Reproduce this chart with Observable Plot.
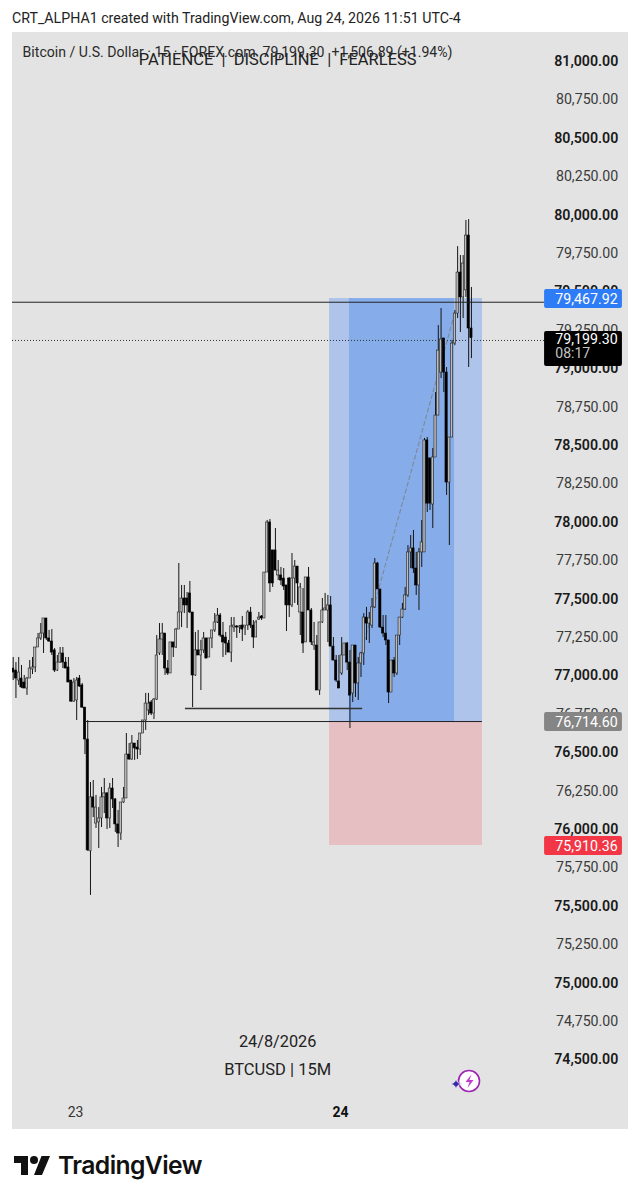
<!DOCTYPE html>
<html>
<head>
<meta charset="utf-8">
<script src="https://cdn.jsdelivr.net/npm/d3@7"></script>
<script src="https://cdn.jsdelivr.net/npm/@observablehq/plot@0.6"></script>
<style>
html,body{margin:0;padding:0;background:#fff;width:640px;height:1200px;overflow:hidden;font-family:Roboto,sans-serif}
#page{position:relative;width:640px;height:1200px}
#head{position:absolute;left:12px;top:9px;font-size:14.2px;line-height:18px;color:#222;white-space:nowrap}
#chart{position:absolute;left:12px;top:32px}
#chart svg{display:block}
#logo{position:absolute;left:14px;top:1151px;display:flex;align-items:center;gap:8px;color:#111}
#logo span{font-family:Inter,sans-serif;font-weight:600;font-size:24.7px;letter-spacing:-0.6px;line-height:28px}
#spark{position:absolute;left:450px;top:1066px}
</style>
</head>
<body>
<div id="page">
<div id="head">CRT_ALPHA1 created with TradingView.com, Aug 24, 2026 11:51 UTC-4</div>
<div id="chart"></div>
<svg id="spark" width="36" height="30" viewBox="0 0 36 30">
<circle cx="19" cy="15" r="10.5" fill="#fff" stroke="#9c27b0" stroke-width="1.6"/>
<path d="M21.5 8.5 15.5 16h4l-2 6 6-8h-4z" fill="#c13bd0"/>
<path d="M6 12C6.700 16 7.500 16.800 12 18 7.500 19 6.700 20 6 24 5.300 20 4.500 19 0 18 4.500 16.800 5.300 16 6 12z" fill="#3b2aa8" stroke="#fff" stroke-width=".8"/>
</svg>
<div id="logo">
<svg width="36" height="26" viewBox="0 0 36 26"><path d="M14 23H7V11H0V4h14zM28 23h-8l7.500-19H36z" fill="#111"/><circle cx="20" cy="8" r="4" fill="#111"/></svg>
<span>TradingView</span>
</div>
</div>
<script>
const opens = [77048,77035,76970,76983,76957,76918,76983,77042,77055,77185,77244,77276,77374,77244,77224,77166,77035,77087,77146,77087,
77055,76970,76833,76840,76983,76938,76794,76586,75858,76209,76039,76046,76072,76209,76235,76072,76267,76196,76033,75974,
76176,76202,76488,76456,76560,76534,76521,76625,76710,76775,76827,76755,76846,77146,77237,77276,77048,77016,77218,77185,
77302,77413,77504,77504,77537,77413,77003,77166,77133,77166,77244,77120,77244,77296,77348,77393,77263,77250,77211,77152,
77315,77322,77315,77328,77315,77328,77413,77328,77250,77367,77387,77374,77673,77999,77817,77817,77654,77654,77634,77589,
77634,77459,77634,77712,77413,77413,77218,77641,77426,77198,77198,76905,77348,77426,77426,77459,77191,77100,76964,77016,
77133,77211,77087,76886,77198,76951,77081,77146,77380,77341,77328,77446,77732,77563,77315,77276,77231,76892,77100,77016,
77263,77380,77432,77524,77804,77830,77699,77589,77804,77804,78533,78416,78116,78422,78695,78975,79197,78975,78259,78552,
79164,79359,79626,79464,79510,79867,79262];
const highs = [77120,77087,77120,77068,77003,76990,77100,77120,77185,77276,77341,77374,77374,77296,77302,77178,77133,77185,77185,77120,
77120,76970,76983,76990,77003,76951,76794,76710,76306,76319,76222,76143,76274,76332,76241,76300,76332,76202,76124,76176,
76274,76625,76560,76612,76560,76580,76625,76710,76886,76886,76840,76853,77263,77341,77341,77276,77100,77218,77218,77309,
77732,77589,77589,77543,77615,77413,77283,77296,77231,77283,77244,77244,77296,77406,77439,77406,77348,77283,77231,77380,
77380,77328,77328,77387,77328,77426,77446,77361,77361,77413,77393,77673,78012,78018,77817,77960,77751,77706,77699,77589,
77641,77797,77751,77712,77602,77569,77641,77706,77439,77348,77263,77348,77504,77537,77524,77517,77250,77133,77133,77250,
77211,77218,77166,77198,77198,77120,77152,77406,77446,77413,77504,77764,77738,77563,77393,77393,77231,77100,77120,77263,
77380,77472,77576,77849,77914,77947,77804,77830,78012,78546,78552,78416,78481,78845,79281,79392,79197,79008,78552,79184,
79379,79795,79737,79737,79965,79971,79529];
const lows = [76970,76853,76938,76918,76918,76873,76983,77009,77022,77185,77231,77146,77231,77218,77133,77022,77029,77081,77048,77048,
76957,76827,76827,76710,76925,76788,76488,75858,75571,76078,76007,75876,76013,76104,76000,76007,76137,75981,75883,75929,
76170,76202,76450,76450,76450,76456,76482,76625,76645,76742,76742,76716,76840,77133,77133,77003,77003,77016,77120,77178,
77348,77315,77406,77309,77406,76794,76997,77133,76905,77146,77113,77120,77178,77283,77341,77250,77120,77133,77152,77087,
77283,77244,77276,77224,77263,77296,77309,77178,77250,77361,77361,77374,77673,77543,77576,77686,77621,77589,77556,77289,
77380,77445,77472,77459,77263,77146,77218,77426,77198,77166,76905,76873,77341,77426,77217,77191,77100,76957,76918,77003,
77133,77035,76658,76827,76860,76840,76990,77068,77231,77211,77309,77439,77563,77309,77250,77198,76820,76892,76990,77003,
77198,77374,77426,77511,77699,77667,77524,77426,77706,77804,78064,78077,77960,78422,78695,78936,78845,78175,77849,78552,
79150,79327,79236,79327,79464,79008,79066];
const closes = [77022,76983,77022,76925,76918,76983,77048,77055,77185,77244,77276,77374,77244,77224,77152,77035,77087,77146,77087,77048,
76957,76833,76957,76970,76931,76794,76586,75864,76209,76143,76143,76072,76209,76235,76072,76267,76196,76033,75974,76176,
76202,76488,76456,76560,76528,76521,76625,76710,76820,76820,76755,76846,77133,77237,77276,77048,77016,77218,77185,77302,
77413,77504,77459,77459,77413,77003,77166,77133,77166,77244,77113,77244,77296,77348,77393,77263,77218,77211,77152,77322,
77328,77315,77322,77302,77328,77413,77328,77250,77348,77380,77374,77673,77999,77602,77602,77686,77686,77621,77582,77459,
77459,77634,77712,77602,77576,77211,77641,77426,77218,77218,76905,77348,77426,77439,77459,77191,77100,76970,76918,77133,
77211,77087,76872,77198,76951,77081,77146,77380,77341,77374,77446,77732,77563,77315,77276,77231,76892,77100,77016,77263,
77380,77432,77524,77804,77830,77699,77589,77804,77869,78533,78122,78122,78422,78695,79118,79190,78975,78259,78552,79164,
79359,79626,79464,79685,79867,79262,79199];
const tickValues = [81000,80750,80500,80250,80000,79750,79500,79250,79000,78750,78500,78250,78000,77750,77500,77250,77000,76750,76500,76250,76000,75750,75500,75250,75000,74750,74500];
const dayLabels = ["23","24"];
const dayBars = [22.6,118.6];
const tagLabels = ["79,467.92","79,199.30","76,714.60","75,910.36"];
const tagColors = ["#2f7df6","#000000","#858585","#f23645"];
const tagTops = [79516,79242,76762,75955];
const tagBottoms = [79392,79014,76638,75831];
const tagTextLevels = [79454,79190,76700,75893];

const candles = opens.map((o,i)=>({i,o,h:highs[i],l:lows[i],c:closes[i]}));
const up = candles.filter(d=>d.c>=d.o), down = candles.filter(d=>d.c<d.o);
const minor = tickValues.filter(v=>v%500!==0), major = tickValues.filter(v=>v%500===0);
const tags = tagLabels.map((label,k)=>({label,color:tagColors[k],top:tagTops[k],bottom:tagBottoms[k],text:tagTextLevels[k]}));
const fmt = d3.format(",.2f");
const tickX = 219.2, tagL = 192.5, tagR = 220.7, labelL = 196.4;

const chart = Plot.plot({
  width:616, height:1097, margin:0,
  style:{background:"#e3e3e3",fontFamily:"Roboto, sans-serif",overflow:"hidden"},
  x:{domain:[-0.25,222.9],range:[0,616],axis:null},
  y:{domain:[74047,81189],range:[1097,0],axis:null},
  marks:[
    Plot.rect([{a:114.6,b:170,t:79457,m:76697}],{x1:"a",x2:"b",y1:"t",y2:"m",fill:"#afc4ea"}),
    Plot.rect([{a:121.8,b:159.9,t:79457,m:76697}],{x1:"a",x2:"b",y1:"t",y2:"m",fill:"#86ade9"}),
    Plot.rect([{a:114.6,b:170,t:76697,m:75896}],{x1:"a",x2:"b",y1:"t",y2:"m",fill:"#e6bfc3"}),
    Plot.line([{x:121.8,y:76873},{x:159.9,y:79359}],{x:"x",y:"y",stroke:"#7f8a9c",strokeWidth:1.2,strokeDasharray:"4,3"}),
    Plot.ruleX(candles,{x:"i",y1:"l",y2:"h",stroke:"#151515",strokeWidth:1}),
    Plot.rect(up,{x1:d=>d.i-0.4,x2:d=>d.i+0.4,y1:"o",y2:"c",fill:"#bcbcbc",stroke:"#222",strokeWidth:0.6}),
    Plot.rect(down,{x1:d=>d.i-0.4,x2:d=>d.i+0.4,y1:"o",y2:"c",fill:"#000",stroke:"#000",strokeWidth:0.6}),
    Plot.ruleY([79433],{x1:-0.25,x2:tagL,stroke:"#222",strokeWidth:1}),
    Plot.ruleY([79184],{x1:-0.25,x2:tagL,stroke:"#333",strokeWidth:1,strokeDasharray:"1,2"}),
    Plot.ruleY([76703],{x1:26.2,x2:170,stroke:"#222",strokeWidth:1}),
    Plot.ruleY([76788],{x1:62.4,x2:126.6,stroke:"#333",strokeWidth:1.3}),
    Plot.text(minor,{x:tickX,y:d=>d,text:fmt,textAnchor:"end",fontSize:14.2,fill:"#3a3a3a"}),
    Plot.text(major,{x:tickX,y:d=>d,text:fmt,textAnchor:"end",fontSize:14.2,fontWeight:600,fill:"#1a1a1a"}),
    Plot.rect(tags,{x1:tagL,x2:tagR,y1:"top",y2:"bottom",fill:"color",rx:2}),
    Plot.text(tags,{x:labelL,y:"text",text:"label",textAnchor:"start",fontSize:14.2,fill:"#fff"}),
    Plot.text(["08:17"],{x:labelL,y:79096,text:d=>d,textAnchor:"start",fontSize:14,fill:"#c4c4c4"}),
    Plot.text(["Bitcoin / U.S. Dollar · 15 · FOREX.com  79,199.30  +1,506.89 (+1.94%)"],{x:3.4,y:81058,text:d=>d,textAnchor:"start",fontSize:14.1,fill:"#2a2a2a"}),
    Plot.text(["PATIENCE\u00a0 | \u00a0DISCIPLINE\u00a0 | \u00a0FEARLESS"],{x:95.8,y:81013,text:d=>d,fontSize:16.5,fill:"#222"}),
    Plot.text(["24/8/2026"],{x:95.8,y:74620,text:d=>d,fontSize:16.3,fill:"#222"}),
    Plot.text(["BTCUSD | 15M"],{x:95.8,y:74437,text:d=>d,fontSize:16.5,fill:"#222"}),
    Plot.text(dayLabels.slice(0,1),{x:()=>dayBars[0],y:74155,text:d=>d,fontSize:14,fill:"#333"}),
    Plot.text(dayLabels.slice(1),{x:()=>dayBars[1],y:74155,text:d=>d,fontSize:14,fontWeight:700,fill:"#111"})
  ]
});
document.getElementById("chart").appendChild(chart);
</script>
</body>
</html>
